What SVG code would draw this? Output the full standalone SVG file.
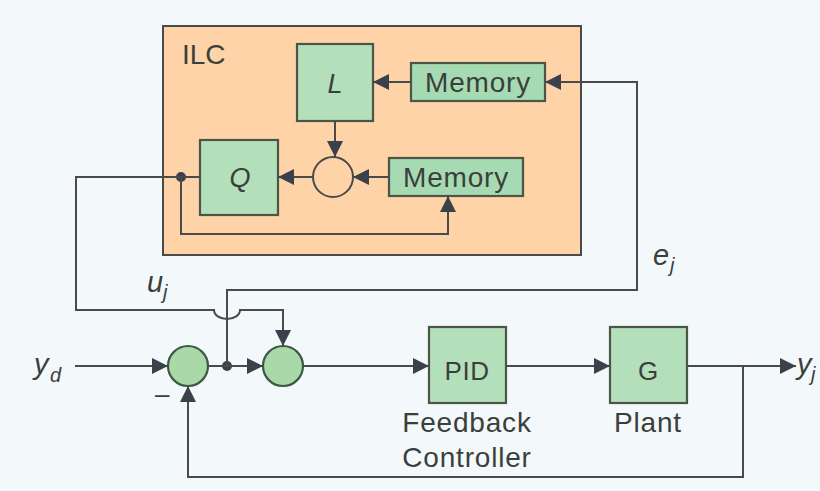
<svg xmlns="http://www.w3.org/2000/svg" width="820" height="491" viewBox="0 0 820 491">
  <defs>
    <marker id="arr" viewBox="0 0 16 16" refX="16" refY="8" markerWidth="16" markerHeight="16" markerUnits="userSpaceOnUse" orient="auto">
      <path d="M0,0 L16,8 L0,16 z" fill="#3a414a"/>
    </marker>
    <style>
      .wire { fill: none; stroke: #4a4a4a; stroke-width: 2; }
      .arw { marker-end: url(#arr); }
      .box { fill: #b3e0ba; stroke: #4d5549; stroke-width: 2.2; }
      .mem { fill: #a6dab2; stroke: #4d5549; stroke-width: 2.2; }
      .sum { fill: #a9d9a9; stroke: #3f5845; stroke-width: 2.2; }
      .t { font-family: "Liberation Sans", Arial, sans-serif; fill: #3b3f3c; }
      .lbl { font-size: 28px; letter-spacing: 0.8px; }
      .it { font-family: "Liberation Sans", Arial, sans-serif; font-style: italic; fill: #3b3f3c; }
    </style>
  </defs>
  <rect x="0" y="0" width="820" height="491" fill="#f3f8fa"/>

  <g id="ilc">
    <rect x="163" y="26" width="418" height="229" fill="#fdd3a7" stroke="#4a4a4a" stroke-width="2"/>
    <text class="t" x="182" y="64" font-size="28">ILC</text>
  </g>

  <g id="L">
    <rect class="box" x="297" y="44" width="76" height="77"/>
    <text class="it" x="335" y="93" font-size="27" text-anchor="middle">L</text>
  </g>

  <g id="memory1">
    <rect class="mem" x="411" y="63" width="134" height="38"/>
    <text class="t lbl" x="478" y="92" text-anchor="middle">Memory</text>
  </g>

  <g id="Q">
    <rect class="box" x="200" y="140" width="78" height="75"/>
    <text class="it" x="240" y="187" font-size="27" text-anchor="middle">Q</text>
  </g>

  <g id="ilcsum">
    <circle cx="333" cy="177" r="20" fill="none" stroke="#4a4a4a" stroke-width="2"/>
  </g>

  <g id="memory2">
    <rect class="mem" x="389" y="158" width="134" height="38"/>
    <text class="t lbl" x="456" y="187" text-anchor="middle">Memory</text>
  </g>

  <g id="sum1">
    <circle class="sum" cx="188" cy="366" r="20"/>
    <text class="t" x="155" y="403" font-size="26">–</text>
  </g>

  <g id="junction">
    <circle cx="227" cy="366" r="5" fill="#3a414a"/>
    <circle cx="181" cy="177" r="5" fill="#3a414a"/>
  </g>

  <g id="sum2">
    <circle class="sum" cx="283" cy="366" r="20"/>
  </g>

  <g id="pid">
    <rect class="box" x="429" y="327" width="77" height="76"/>
    <text class="t" x="467" y="380" font-size="26" text-anchor="middle" letter-spacing="0.5">PID</text>
    <text class="t lbl" x="467" y="432" text-anchor="middle">Feedback</text>
    <text class="t lbl" x="467" y="467" text-anchor="middle">Controller</text>
  </g>

  <g id="plant">
    <rect class="box" x="610" y="327" width="77" height="76"/>
    <text class="t" x="648" y="380" font-size="26" text-anchor="middle">G</text>
    <text class="t lbl" x="648" y="432" text-anchor="middle">Plant</text>
  </g>

  <g id="labels">
    <text class="it" x="34" y="374" font-size="29">y</text>
    <text class="it" x="50" y="382" font-size="20">d</text>
    <text class="it" x="147" y="292" font-size="29">u</text>
    <text class="it" x="163" y="299" font-size="20">j</text>
    <text class="it" x="653" y="265" font-size="29">e</text>
    <text class="it" x="670" y="272" font-size="20">j</text>
    <text class="it" x="797" y="374" font-size="29">y</text>
    <text class="it" x="811" y="381" font-size="20">j</text>
  </g>

  <g id="connectors">
    <path class="wire arw" d="M411 82 H373"/>
    <path class="wire arw" d="M335 121 V157"/>
    <path class="wire arw" d="M389 177 H353"/>
    <path class="wire arw" d="M313 177 H278"/>
    <path class="wire" d="M181 177 H200"/>
    <path class="wire arw" d="M181 177 V234 H448 V196"/>
    <path class="wire arw" d="M227 366 V290 H637 V82 H545"/>
    <path class="wire arw" d="M181 177 H76 V310 H214 A13 9 0 0 0 240 310 H283 V346"/>
    <path class="wire arw" d="M75 366 H168"/>
    <path class="wire arw" d="M208 366 H263"/>
    <path class="wire arw" d="M303 366 H429"/>
    <path class="wire arw" d="M506 366 H610"/>
    <path class="wire arw" d="M687 366 H796"/>
    <path class="wire arw" d="M743 366 V477 H188 V386"/>
  </g>
</svg>
